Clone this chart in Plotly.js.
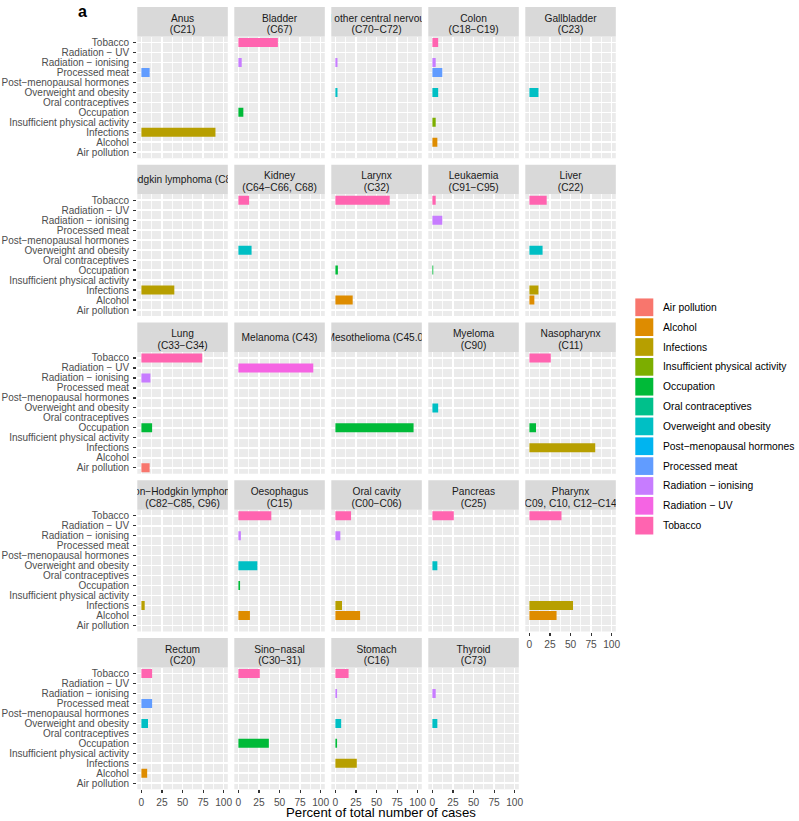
<!DOCTYPE html>
<html><head><meta charset="utf-8">
<script src="https://cdn.plot.ly/plotly-3.0.1.min.js"></script>
<style>html,body{margin:0;padding:0;background:#fff}#chart{width:799px;height:821px}</style>
</head><body><div id="chart"></div>
<script>
// ---------- data ----------
const sites = [
  "Anus\n(C21)", "Bladder\n(C67)", "Brain and other central nervous system\n(C70−C72)", "Colon\n(C18−C19)", "Gallbladder\n(C23)",
  "Hodgkin lymphoma (C81)", "Kidney\n(C64−C66, C68)", "Larynx\n(C32)", "Leukaemia\n(C91−C95)", "Liver\n(C22)",
  "Lung\n(C33−C34)", "Melanoma (C43)", "Mesothelioma (C45.0)", "Myeloma\n(C90)", "Nasopharynx\n(C11)",
  "Non−Hodgkin lymphoma\n(C82−C85, C96)", "Oesophagus\n(C15)", "Oral cavity\n(C00−C06)", "Pancreas\n(C25)", "Pharynx\n(C09, C10, C12−C14)",
  "Rectum\n(C20)", "Sino−nasal\n(C30−31)", "Stomach\n(C16)", "Thyroid\n(C73)"
];
const factors = [
  "Air pollution", "Alcohol", "Infections", "Insufficient physical activity", "Occupation",
  "Oral contraceptives", "Overweight and obesity", "Post−menopausal hormones", "Processed meat",
  "Radiation − ionising", "Radiation − UV", "Tobacco"
];
const factorColors = ["#F8766D","#DE8C00","#B79F00","#7CAE00","#00BA38","#00C08B",
                      "#00BFC4","#00B4F0","#619CFF","#C77CFF","#F564E3","#FF64B0"];
const xTicks = [0, 25, 50, 75, 100];

// percent of cases, one value per site (order as in `sites`)
const airPollution       = [0,0,0,0,0,   0,0,0,0,0,    10,0,0,0,0,  0,0,0,0,0,    0,0,0,0];
const alcohol            = [0,0,0,6,0,   0,0,21,0,6,   0,0,0,0,0,   0,14,30,0,33, 7,0,0,0];
const infections         = [90,0,0,0,0,  40,0,0,0,11,  0,0,0,0,80,  4,0,8,0,53,   0,0,26,0];
const insufficientActivity = [0,0,0,4,0, 0,0,0,0,0,    0,0,0,0,0,   0,0,0,0,0,    0,0,0,0];
const occupation         = [0,6,0,0,0,   0,0,3,1,0,    13,0,95,0,8, 0,2,0,0,0,    0,37,2,0];
const oralContraceptives = [0,0,0,0,0,   0,0,0,0,0,    0,0,0,0,0,   0,0,0,0,0,    0,0,0,0];
const overweightObesity  = [0,0,2.5,7,11, 0,16,0,0,16, 0,0,0,7,0,   0,23,0,6,0,   8,0,7,6];
const postMenopausal     = [0,0,0,0,0,   0,0,0,0,0,    0,0,0,0,0,   0,0,0,0,0,    0,0,0,0];
const processedMeat      = [10,0,0,12,0, 0,0,0,0,0,    0,0,0,0,0,   0,0,0,0,0,    13,0,0,0];
const radiationIonising  = [0,4,2.5,4,0, 0,0,0,12,0,   11,0,0,0,0,  0,3,6,0,0,    0,0,2,4];
const radiationUV        = [0,0,0,0,0,   0,0,0,0,0,    0,91,0,0,0,  0,0,0,0,0,    0,0,0,0];
const tobacco            = [0,48,0,7,0,  0,13,66,4,21, 74,0,0,0,26, 0,40,19,26,39, 13,26,16,0];

const seriesList = [airPollution, alcohol, infections, insufficientActivity, occupation,
  oralContraceptives, overweightObesity, postMenopausal, processedMeat,
  radiationIonising, radiationUV, tobacco];

// ---------- layout geometry (pixels) ----------
const W = 799, H = 821;
const colLeft = [137.3, 234.3, 331.3, 428.3, 525.3], colW = 90.5;
const rowTop = [7, 164.75, 322.5, 480.25, 638], stripH = 29.5, panelH = 121.75;
const fx = p => p / W, fy = p => 1 - p / H;
const FONT = "Liberation Sans, Arial, Helvetica, sans-serif";
const nCols = 5, nRows = 5;

const layout = {
  width: W, height: H, margin: {l: 0, r: 0, t: 0, b: 0},
  paper_bgcolor: "#ffffff", plot_bgcolor: "rgba(0,0,0,0)",
  showlegend: false, bargap: 0.1,
  font: {family: FONT, size: 10, color: "#4D4D4D"},
  shapes: [], annotations: []
};

const bottomRowOfCol = c => {
  let r = nRows - 1;
  while (r * nCols + c >= sites.length) r--;
  return r;
};

for (let c = 0; c < nCols; c++) {
  const br = bottomRowOfCol(c);
  layout["xaxis" + (c + 1)] = {
    domain: [fx(colLeft[c]), fx(colLeft[c] + colW)],
    range: [-5, 105], tickmode: "array", tickvals: xTicks, ticktext: xTicks.map(String),
    anchor: "y" + (br + 1),
    showgrid: true, gridcolor: "#ffffff", gridwidth: 1.6,
    minor: {tickmode: "array", tickvals: [12.5, 37.5, 62.5, 87.5], showgrid: true,
            gridcolor: "#ffffff", gridwidth: 0.8, ticks: ""},
    zeroline: false, showline: false,
    ticks: "outside", ticklen: 3.2, tickwidth: 1.2, tickcolor: "#333333",
    tickfont: {family: FONT, size: 10.2, color: "#4D4D4D"}, fixedrange: true
  };
  layout["xaxis" + (c + 6)] = {
    domain: [fx(colLeft[c]), fx(colLeft[c] + colW)], range: [0, 1],
    anchor: "y" + (br + 6), visible: false, fixedrange: true
  };
}
for (let r = 0; r < nRows; r++) {
  layout["yaxis" + (r + 1)] = {
    domain: [fy(rowTop[r] + stripH + panelH), fy(rowTop[r] + stripH)],
    type: "category", categoryorder: "array", categoryarray: factors,
    tickmode: "array", tickvals: factors, ticktext: factors,
    range: [-0.6, factors.length - 0.4], anchor: "x1",
    showgrid: true, gridcolor: "#ffffff", gridwidth: 1.6,
    zeroline: false, showline: false,
    ticks: "outside", ticklen: 3.2, tickwidth: 1.2, tickcolor: "#333333",
    ticklabelstandoff: 2,
    tickfont: {family: FONT, size: 10, color: "#4D4D4D"}, fixedrange: true
  };
  layout["yaxis" + (r + 6)] = {
    domain: [fy(rowTop[r] + stripH), fy(rowTop[r])], range: [0, 1],
    anchor: "x6", visible: false, fixedrange: true
  };
}

const traces = [];
sites.forEach((site, i) => {
  const c = i % nCols, r = Math.floor(i / nCols);
  // panel + strip backgrounds
  layout.shapes.push({type: "rect", xref: "paper", yref: "paper", layer: "below",
    x0: fx(colLeft[c]), x1: fx(colLeft[c] + colW),
    y0: fy(rowTop[r] + stripH + panelH), y1: fy(rowTop[r] + stripH),
    fillcolor: "#EBEBEB", line: {width: 0}});
  layout.shapes.push({type: "rect", xref: "paper", yref: "paper", layer: "below",
    x0: fx(colLeft[c]), x1: fx(colLeft[c] + colW),
    y0: fy(rowTop[r] + stripH), y1: fy(rowTop[r]),
    fillcolor: "#D9D9D9", line: {width: 0}});
  // bars
  traces.push({
    type: "bar", orientation: "h",
    x: seriesList.map(s => s[i]), y: factors,
    marker: {color: factorColors, line: {width: 0}},
    xaxis: "x" + (c + 1), yaxis: "y" + (r + 1),
    hoverinfo: "x+y", name: site.replace("\n", " ")
  });
  // strip label (clipped to strip like ggplot)
  const lines = site.split("\n");
  traces.push({
    type: "scatter", mode: "text",
    x: lines.map(() => 0.5),
    y: lines.length === 2 ? [0.59, 0.195] : [0.47],
    text: lines, textposition: "middle center",
    textfont: {family: FONT, size: 10.2, color: "#1A1A1A"},
    cliponaxis: true, hoverinfo: "skip",
    xaxis: "x" + (c + 6), yaxis: "y" + (r + 6)
  });
});

// legend (drawn manually to match ggplot key size)
const legY0 = 307.3, legStep = 19.85, keyW = 18, keyH = 17.7, keyX = 635.3, legTextX = 660.5;
factors.forEach((f, k) => {
  const yc = legY0 + legStep * k;
  layout.shapes.push({type: "rect", xref: "paper", yref: "paper", layer: "above",
    x0: fx(keyX), x1: fx(keyX + keyW), y0: fy(yc + keyH / 2), y1: fy(yc - keyH / 2),
    fillcolor: factorColors[k], line: {width: 0}});
  layout.annotations.push({xref: "paper", yref: "paper", x: fx(legTextX), y: fy(yc),
    xanchor: "left", yanchor: "middle", showarrow: false, text: f,
    font: {family: FONT, size: 10.3, color: "#000000"}});
});

// axis title and panel tag
layout.annotations.push({xref: "paper", yref: "paper", x: fx(381), y: fy(812.5),
  xanchor: "center", yanchor: "middle", showarrow: false,
  text: "Percent of total number of cases", font: {family: FONT, size: 13.2, color: "#000000"}});
layout.annotations.push({xref: "paper", yref: "paper", x: fx(76), y: fy(11.5),
  xanchor: "left", yanchor: "middle", showarrow: false,
  text: "<b>a</b>", font: {family: FONT, size: 16, color: "#000000"}});

Plotly.newPlot("chart", traces, layout, {displayModeBar: false, staticPlot: true});
</script>
</body></html>
